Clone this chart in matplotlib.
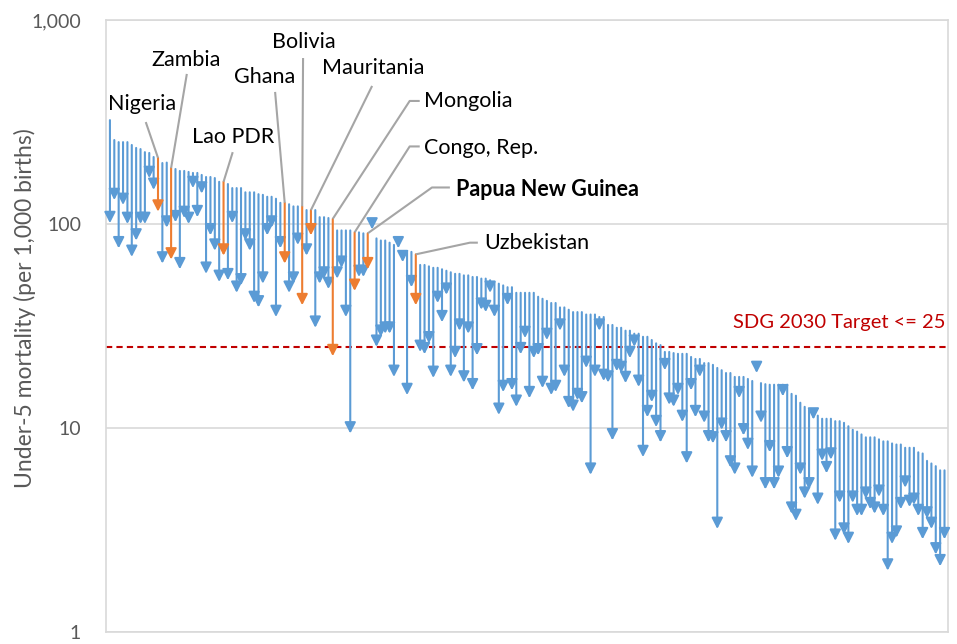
import matplotlib.pyplot as plt
from matplotlib.ticker import NullLocator

plt.rcParams['font.family'] = ['Lato', 'DejaVu Sans']

# under-5 mortality per 1,000 births: first year (line top) and latest year (arrow tip)
rate_start = [
    323, 258, 252, 252, 252, 244, 236, 233, 225, 223,
    213, 211, 199, 200, 188, 186, 182, 182, 180, 178,
    178, 174, 170, 170, 168, 161, 161, 157, 150, 150,
    150, 143, 143, 143, 140, 139, 136, 136, 133, 127,
    127, 125, 122, 122, 122, 117, 117, 117, 108, 108,
    107, 106, 93, 93, 93, 93, 91, 91, 90, 90,
    100, 85, 83, 83, 81, 79, 81, 73, 73, 73,
    71, 63, 63, 62, 61, 61, 60, 59, 58, 57,
    57, 56, 56, 55, 55, 54, 54, 53, 52, 51,
    50, 49, 49, 46, 46, 46, 46, 46, 44, 43,
    42, 41, 41, 39, 39, 38, 37, 37, 37, 36,
    36, 36, 35, 35, 32, 32, 31, 31, 30, 30,
    29, 29, 28, 28, 27, 26, 25.5, 23.6, 23.6, 23.3,
    23.1, 23.1, 23.1, 22.3, 21.8, 21.8, 20.8, 20.8, 20.4, 19.7,
    19.2, 18.6, 18.6, 17.8, 17.8, 17.8, 17.4, 17.0, 20.8, 16.6,
    16.4, 16.3, 16.3, 16.3, 16.3, 16.3, 14.7, 14.4, 13.3, 12.7,
    12.3, 12.0, 11.5, 11.1, 11.1, 11.1, 10.8, 10.8, 10.6, 10.2,
    9.8, 9.6, 9.3, 9.0, 9.0, 9.0, 8.8, 8.6, 8.6, 8.4,
    8.3, 8.3, 8.0, 8.0, 8.0, 7.6, 7.5, 6.9, 6.7, 6.5,
    6.2, 6.2,
]
rate_end = [
    101, 131, 76, 124, 100, 69, 83, 100, 100, 168,
    147, 115, 64, 96, 67, 102, 60, 107, 100, 150,
    108, 141, 57, 88, 74, 52, 70, 53, 101, 46,
    50, 83, 74, 41, 39, 51, 88, 96, 35, 76,
    64, 46, 51, 79, 40, 70, 88, 31, 51, 54,
    48, 22.5, 54, 61, 35, 9.4, 47, 55, 55, 60,
    94, 25, 28, 29, 29, 17.8, 76, 65, 14.5, 49,
    40, 23.6, 23, 26, 17.6, 41, 33, 45, 17.8, 22,
    30, 16.7, 29, 15.3, 22.7, 38, 37, 46, 35, 11.6,
    15, 40, 15.3, 12.7, 23, 27.6, 14, 22, 22.7, 15.7,
    27, 14.5, 15, 30, 17.8, 12.5, 12, 13.7, 13.2, 19.7,
    5.9, 17.8, 30, 17, 16.7, 8.7, 19, 18.6, 16.6, 22,
    25, 15.9, 7.2, 11.3, 13.4, 10.1, 8.5, 19.2, 13, 12.7,
    14.5, 10.7, 6.7, 15.3, 11.3, 17.8, 10.6, 8.5, 8.4, 3.2,
    9.8, 8.5, 6.4, 5.9, 14, 9.2, 7.8, 5.7, 18.6, 10.6,
    5.0, 7.6, 5.0, 5.7, 14.3, 7.1, 3.8, 3.5, 5.9, 4.5,
    5.0, 11.0, 4.2, 6.9, 6.0, 7.0, 2.8, 4.3, 3.0, 2.7,
    4.3, 3.7, 3.7, 4.5, 4.0, 3.8, 4.6, 3.7, 2.0, 2.7,
    2.9, 4.0, 5.1, 4.1, 4.2, 3.7, 2.85, 3.6, 3.2, 2.4,
    2.1, 2.85,
]

# highlighted countries and their position in the series
named = ['Nigeria', 'Zambia', 'Lao PDR', 'Ghana', 'Bolivia', 'Mauritania',
         'Mongolia', 'Congo, Rep.', 'Papua New Guinea', 'Uzbekistan']
named_idx = [11, 14, 26, 40, 44, 46, 51, 56, 59, 70]

target = 25

BLUE = '#5b9bd5'
ORANGE = '#ed7d31'
GREY = '#a5a5a5'
TXT = '#595959'

fig = plt.figure(figsize=(9.57, 6.44), dpi=100)
ax = fig.add_axes([106 / 957, 12 / 644, 842 / 957, 612 / 644])
ax.set_yscale('log')
ax.set_ylim(1, 1000)
ax.set_xlim(-0.9, len(rate_start) - 0.2)

for i, (a, b) in enumerate(zip(rate_start, rate_end)):
    c = ORANGE if i in named_idx else BLUE
    ax.annotate('', xy=(i, b), xytext=(i, a),
                arrowprops=dict(arrowstyle='-|>,head_length=0.65,head_width=0.33',
                                color=c, lw=1.5, shrinkA=0, shrinkB=0,
                                mutation_scale=10),
                zorder=4 if c == ORANGE else 3)

ax.axhline(target, color='#c00000', lw=1.5, ls=(0, (3, 2)), zorder=2)
ax.text(len(rate_start) - 0.8, 33, 'SDG 2030 Target <= 25', color='#c00000',
        fontsize=14.5, ha='right', va='center')

# label text position and leader bend points, in data coordinates
label_pos = {
    'Nigeria': ((-0.5, 387), [(8.2, 316)]),
    'Zambia': ((9.6, 637), [(17.6, 544)]),
    'Lao PDR': ((18.8, 267), [(28.1, 225)]),
    'Ghana': ((28.4, 526), [(37.8, 444)]),
    'Bolivia': ((37.1, 780), [(44.2, 651)]),
    'Mauritania': ((48.5, 582), [(60, 475)]),
    'Mongolia': ((71.9, 401), [(70.9, 401), (68.6, 401)]),
    'Congo, Rep.': ((71.9, 235), [(70.9, 240), (68.6, 240)]),
    'Papua New Guinea': ((79.2, 148), [(77.8, 151), (73.7, 151)]),
    'Uzbekistan': ((85.6, 81), [(84.2, 81), (82.4, 81)]),
}
for name, idx in zip(named, named_idx):
    (tx, ty), pts = label_pos[name]
    xs = [p[0] for p in pts] + [idx]
    ys = [p[1] for p in pts] + [rate_start[idx]]
    ax.plot(xs, ys, color=GREY, lw=1.5, zorder=5, solid_capstyle='butt')
    ax.text(tx, ty, name, fontsize=15.5, va='center', ha='left', color='black',
            fontweight='bold' if name == 'Papua New Guinea' else 'normal')

ax.set_yticks([1, 10, 100, 1000])
ax.set_yticklabels(['1', '10', '100', '1,000'])
ax.yaxis.set_minor_locator(NullLocator())
ax.set_xticks([])
ax.tick_params(axis='y', length=0, pad=18, labelsize=14, labelcolor=TXT)
ax.grid(axis='y', color='#d9d9d9', lw=1.2)
ax.set_axisbelow(True)
for s in ax.spines.values():
    s.set_color('#d9d9d9')
    s.set_linewidth(1.2)

ax.set_ylabel('Under-5 mortality (per 1,000 births)', fontsize=16.5, color=TXT)
ax.yaxis.set_label_coords(-0.083, 0.53)

fig.savefig('out.png', dpi=100)
